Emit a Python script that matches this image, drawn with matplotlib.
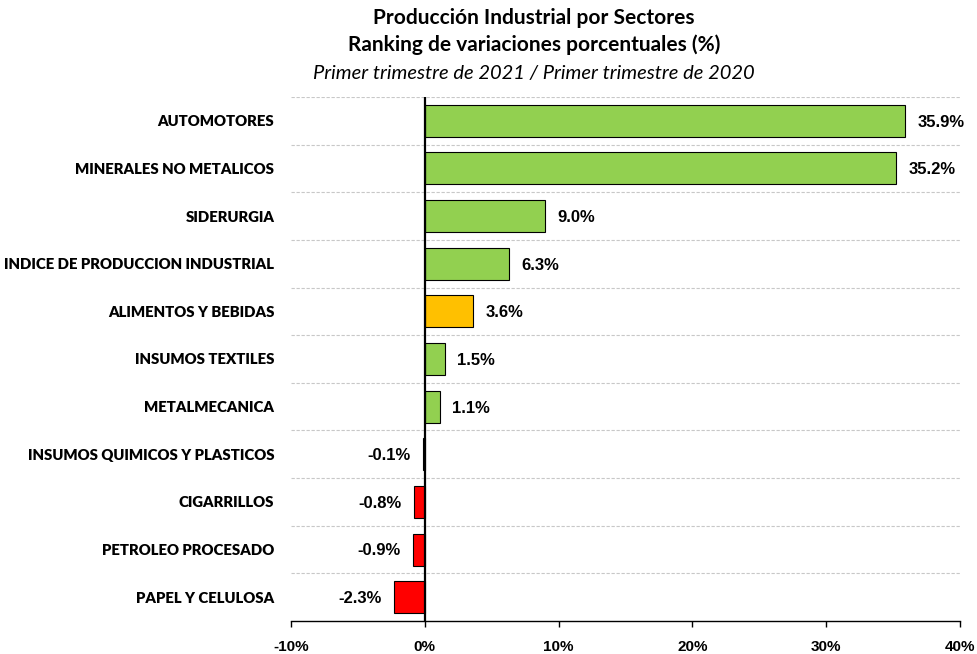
import matplotlib
matplotlib.use("Agg")
import matplotlib.pyplot as plt
from matplotlib.ticker import FuncFormatter

sectores = [
    "AUTOMOTORES",
    "MINERALES NO METALICOS",
    "SIDERURGIA",
    "INDICE DE PRODUCCION INDUSTRIAL",
    "ALIMENTOS Y BEBIDAS",
    "INSUMOS TEXTILES",
    "METALMECANICA",
    "INSUMOS QUIMICOS Y PLASTICOS",
    "CIGARRILLOS",
    "PETROLEO PROCESADO",
    "PAPEL Y CELULOSA",
]
variacion = [35.9, 35.2, 9.0, 6.3, 3.6, 1.5, 1.1, -0.1, -0.8, -0.9, -2.3]
colores = ["#92D050", "#92D050", "#92D050", "#92D050", "#FFC000", "#92D050",
           "#92D050", "#92D050", "#FF0000", "#FF0000", "#FF0000"]
ticks_x = [-10, 0, 10, 20, 30, 40]

fuente_titulo = "Lato"
fuente_num = "Liberation Sans"

fig = plt.figure(figsize=(9.78, 6.54), dpi=100)
ax = fig.add_axes([291 / 978, 1 - 621 / 654, (960 - 291) / 978, (621 - 97) / 654])

n = len(sectores)
pos = list(range(n))
ax.barh(pos, variacion, height=0.67, color=colores, edgecolor="black", linewidth=0.8, zorder=3)
ax.set_ylim(n - 0.5, -0.5)
ax.set_xlim(-10, 40)

# lineas de division entre categorias
for i in range(n):
    ax.axhline(i - 0.5, color="#c8c8c8", linestyle=(0, (3, 1.5)), linewidth=0.8, zorder=1)
ax.axvline(0, color="black", linewidth=1.6, zorder=4)

ax.set_yticks(pos)
ax.set_yticklabels(sectores, fontfamily=fuente_titulo, fontweight="heavy", fontsize=10.7)
ax.tick_params(axis="y", length=0, pad=12)
ax.set_xticks(ticks_x)
ax.xaxis.set_major_formatter(FuncFormatter(lambda v, p: f"{v:.0f}%"))
for lab in ax.get_xticklabels():
    lab.set_fontfamily(fuente_num)
    lab.set_fontweight("bold")
    lab.set_fontsize(11)
ax.tick_params(axis="x", length=4, width=1, pad=10)

for s in ["top", "right", "left"]:
    ax.spines[s].set_visible(False)
ax.spines["bottom"].set_linewidth(1)

for i, v in enumerate(variacion):
    if v >= 0:
        ax.annotate(f"{v:.1f}%", (v, i), xytext=(9, -1), textcoords="offset points",
                    ha="left", va="center", fontfamily=fuente_num, fontweight="bold", fontsize=12)
    else:
        ax.annotate(f"{v:.1f}%", (v, i), xytext=(-9, -1), textcoords="offset points",
                    ha="right", va="center", fontfamily=fuente_num, fontweight="bold", fontsize=12)

cx = 534 / 978
fig.text(cx, 1 - 18 / 654, "Producción Industrial por Sectores", ha="center", va="center",
         fontfamily=fuente_titulo, fontweight="bold", fontsize=15)
fig.text(cx, 1 - 45 / 654, "Ranking de variaciones porcentuales (%)", ha="center", va="center",
         fontfamily=fuente_titulo, fontweight="bold", fontsize=15)
fig.text(cx, 1 - 73 / 654, "Primer trimestre de 2021 / Primer trimestre de 2020", ha="center", va="center",
         fontfamily=fuente_titulo, style="italic", fontsize=14.5)

fig.savefig("out.png", dpi=100)
